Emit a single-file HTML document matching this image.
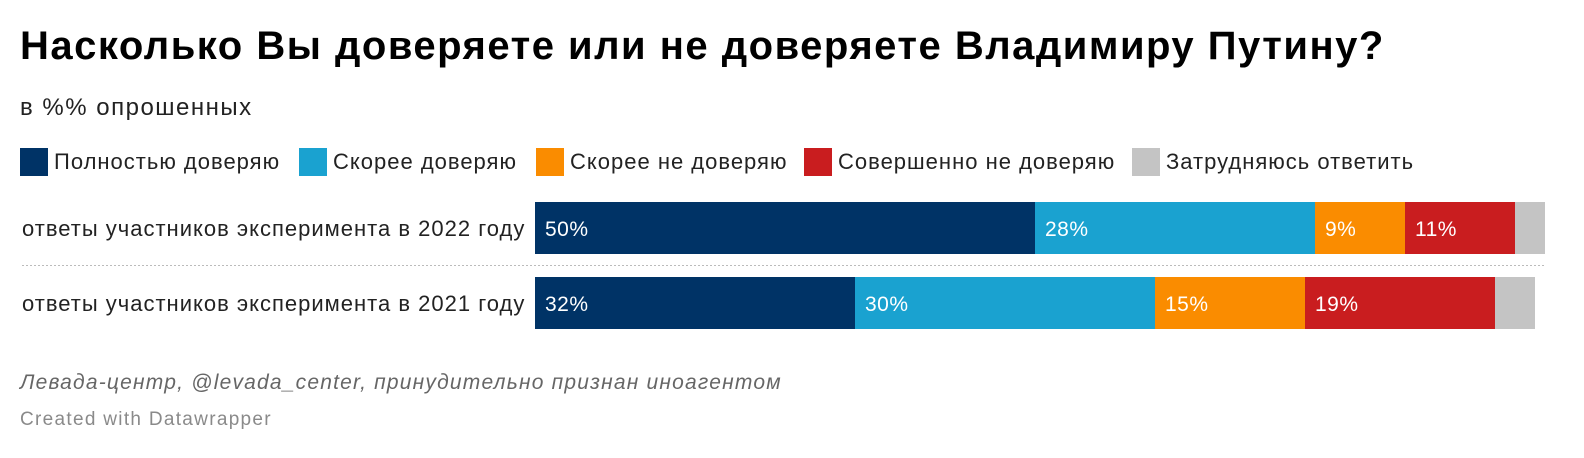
<!DOCTYPE html>
<html><head><meta charset="utf-8"><style>
body{margin:0;width:1584px;height:458px;background:#fff;font-family:"Liberation Sans",sans-serif;position:relative;overflow:hidden;color:#181818}
.abs{position:absolute;white-space:nowrap}
.lg{position:absolute;top:148px;height:28px;display:flex;align-items:center;font-size:22px;letter-spacing:1px;color:#222}
.lg span.sw{width:28px;height:28px;display:inline-block;margin-right:6px}
</style></head><body>
<div class="abs" style="left:20px;top:24px;font-size:40px;letter-spacing:1.5px;font-weight:bold;color:#000">Насколько Вы доверяете или не доверяете Владимиру Путину?</div>
<div class="abs" style="left:20px;top:94px;font-size:24px;letter-spacing:1.5px;color:#222">в %% опрошенных</div>
<div id="legend"></div>
<svg id="chart" width="1584" height="458" style="position:absolute;left:0;top:0"></svg>
<div class="abs" style="left:20px;top:371px;font-size:21px;letter-spacing:1.2px;font-style:italic;color:#666">Левада-центр, @levada_center, принудительно признан иноагентом</div>
<div class="abs" style="left:20px;top:409px;font-size:19px;letter-spacing:1.3px;color:#8a8a8a">Created with Datawrapper</div>
<script>
const categories=["ответы участников эксперимента в 2022 году","ответы участников эксперимента в 2021 году"];
const seriesNames=["Полностью доверяю","Скорее доверяю","Скорее не доверяю","Совершенно не доверяю","Затрудняюсь ответить"];
const fullyTrust=[50,32];
const ratherTrust=[28,30];
const ratherNot=[9,15];
const notAtAll=[11,19];
const hardToSay=[3,4];
const colors=["#003366","#1aa2d0","#fa8c00","#c91d1f","#c4c4c4"];
const legendX=[20,299,536,804,1132];
const series=[fullyTrust,ratherTrust,ratherNot,notAtAll,hardToSay];
const x0=535,pxPer=10.0,rowTop=[202,277],barH=52;
const xs=v=>x0+v*pxPer;
const ns="http://www.w3.org/2000/svg";
const svg=document.getElementById('chart');
const leg=document.getElementById('legend');
seriesNames.forEach((n,i)=>{
 const d=document.createElement('div');d.className='lg';d.style.left=legendX[i]+'px';
 
 
 d.innerHTML='<span class="sw" style="background:'+colors[i]+'"></span>'+n;
 leg.appendChild(d);
});
categories.forEach((c,r)=>{
 const t=document.createElementNS(ns,'text');
 
 
 t.setAttribute('x',22);t.setAttribute('y',rowTop[r]+barH/2+8);
 t.setAttribute('font-size','22');t.setAttribute('letter-spacing','1');t.setAttribute('fill','#222');t.textContent=c;svg.appendChild(t);
 let cum=0;
 series.forEach((s,i)=>{
  const v=s[r];
  const rc=document.createElementNS(ns,'rect');
  
  
  rc.setAttribute('x',xs(cum));rc.setAttribute('y',rowTop[r]);
  rc.setAttribute('width',xs(cum+v)-xs(cum));rc.setAttribute('height',barH);rc.setAttribute('fill',colors[i]);
  svg.appendChild(rc);
  if(i<4){
   const l=document.createElementNS(ns,'text');
   
   
   l.setAttribute('x',xs(cum)+10);l.setAttribute('y',rowTop[r]+barH/2+8);
   l.setAttribute('font-size','21');l.setAttribute('letter-spacing','0.5');l.setAttribute('fill','#fff');l.textContent=v+'%';svg.appendChild(l);
  }
  cum+=v;
 });
});
const ln=document.createElementNS(ns,'line');


ln.setAttribute('x1',22);ln.setAttribute('x2',1546);ln.setAttribute('y1',265.5);ln.setAttribute('y2',265.5);
ln.setAttribute('stroke','#bbb');ln.setAttribute('stroke-dasharray','2,2');svg.appendChild(ln);
</script>
</body></html>
